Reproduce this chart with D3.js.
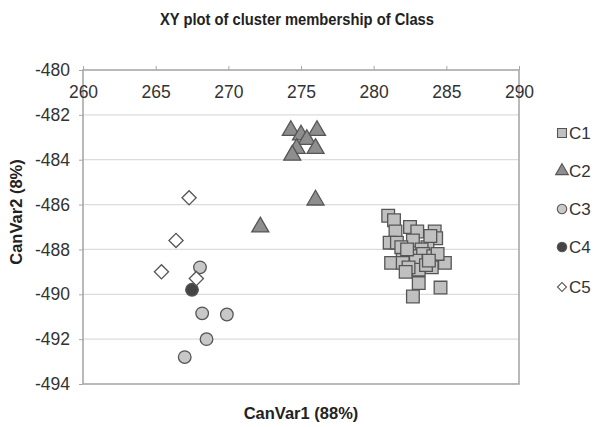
<!DOCTYPE html>
<html><head><meta charset="utf-8">
<script src="https://cdn.jsdelivr.net/npm/d3@7"></script>
<style>body{margin:0;background:#fff}svg{display:block}</style>
</head><body>
<svg id="c" width="595" height="427"></svg>
<script>
const title = "XY plot of cluster membership of Class";
const xLabel = "CanVar1 (88%)";
const yLabel = "CanVar2 (8%)";
const xTicks = [260, 265, 270, 275, 280, 285, 290];
const yTicks = [-480, -482, -484, -486, -488, -490, -492, -494];
const seriesNames = ["C1", "C2", "C3", "C4", "C5"];

const c1x = [281.0, 281.4, 281.5, 282.5, 283.0, 284.2, 284.3, 281.1, 281.6, 282.7, 283.7, 283.3, 282.0, 282.7, 283.4, 284.1, 281.2, 282.0, 282.9, 284.0, 284.9, 283.1, 282.4, 283.6, 283.1, 284.6, 282.7, 281.9, 283.9, 282.3, 284.4, 283.8, 282.2];
const c1y = [-486.5, -486.7, -487.2, -487.0, -487.2, -487.2, -487.5, -487.7, -487.7, -487.6, -487.9, -488.0, -488.3, -488.3, -488.2, -488.3, -488.6, -488.6, -488.5, -488.8, -488.6, -488.9, -488.8, -488.7, -489.5, -489.7, -490.1, -487.9, -487.4, -488.0, -488.2, -488.5, -489.0];
const c2x = [274.3, 276.1, 275.0, 275.4, 274.7, 274.4, 276.0, 276.0, 272.2];
const c2y = [-482.7, -482.7, -482.9, -483.1, -483.5, -483.8, -483.5, -485.8, -487.0];
const c3x = [268.05, 268.2, 269.9, 268.5, 267.0];
const c3y = [-488.8, -490.85, -490.9, -492.0, -492.8];
const c4x = [267.5];
const c4y = [-489.8];
const c5x = [267.3, 266.4, 265.4, 267.8];
const c5y = [-485.7, -487.6, -489.0, -489.3];

const svg = d3.select("#c");
const L = 83, R = 519, T = 70, B = 384;
const x = d3.scaleLinear().domain([260, 290]).range([L, R]);
const y = d3.scaleLinear().domain([-494, -480]).range([B, T]);
const font = "'Liberation Sans', Arial, sans-serif";

svg.append("text").attr("x", 297).attr("y", 25).attr("text-anchor", "middle")
  .attr("font-family", font).attr("font-weight", "bold").attr("font-size", 16)
  .attr("textLength", 274).attr("lengthAdjust", "spacingAndGlyphs")
  .attr("fill", "#222").text(title);

// gridlines
svg.append("g").selectAll("line").data(yTicks.slice(1, -1)).join("line")
  .attr("x1", L).attr("x2", R).attr("y1", d => y(d)).attr("y2", d => y(d))
  .attr("stroke", "#dcdcdc").attr("stroke-width", 1.2);

// plot border
svg.append("rect").attr("x", L).attr("y", T).attr("width", R - L).attr("height", B - T)
  .attr("fill", "none").attr("stroke", "#a8a8a8").attr("stroke-width", 1.6);

// y axis
const yAxis = svg.append("g").attr("transform", `translate(${L},0)`)
  .call(d3.axisLeft(y).tickValues(yTicks).tickFormat(d => String(d)).tickSize(4).tickPadding(9));
yAxis.select(".domain").remove();
yAxis.selectAll("line").attr("stroke", "#a8a8a8");
yAxis.selectAll("text").attr("font-family", font).attr("font-size", 17.5).attr("fill", "#333");

// x axis on top, labels below the line
const xAxis = svg.append("g").attr("transform", `translate(0,${T})`)
  .call(d3.axisBottom(x).tickValues(xTicks).tickFormat(d => String(d)).tickSize(4).tickPadding(12));
xAxis.select(".domain").remove();
xAxis.selectAll("line").attr("stroke", "#a8a8a8").attr("y2", -4);
xAxis.selectAll("text").attr("font-family", font).attr("font-size", 17.5).attr("fill", "#333");

svg.append("text").attr("x", 301).attr("y", 419).attr("text-anchor", "middle")
  .attr("font-family", font).attr("font-weight", "bold").attr("font-size", 16.5).attr("fill", "#222").text(xLabel);
svg.append("text").attr("transform", "translate(22,212) rotate(-90)").attr("text-anchor", "middle")
  .attr("font-family", font).attr("font-weight", "bold").attr("font-size", 16.5).attr("fill", "#222").text(yLabel);

const zip = (a, b) => a.map((v, i) => [v, b[i]]);
const series = [
  {name: "C1", pts: zip(c1x, c1y), type: d3.symbolSquare, size: 160, fill: "#c0c0c0"},
  {name: "C2", pts: zip(c2x, c2y), type: d3.symbolTriangle, size: 125, fill: "#8e8e8e"},
  {name: "C3", pts: zip(c3x, c3y), type: d3.symbolCircle, size: 125, fill: "#c8c8c8"},
  {name: "C4", pts: zip(c4x, c4y), type: d3.symbolCircle, size: 125, fill: "#444"},
  {name: "C5", pts: zip(c5x, c5y), type: d3.symbolDiamond, size: 100, fill: "#fff"}
];
const isDia = s => s.type === d3.symbolDiamond;
series.forEach(s => {
  svg.append("g").selectAll("path").data(s.pts).join("path")
    .attr("d", isDia(s) ? d3.symbol().type(d3.symbolSquare).size(s.size)() : d3.symbol().type(s.type).size(s.size)())
    .attr("transform", d => `translate(${x(d[0])},${y(d[1])})` + (isDia(s) ? " rotate(45)" : ""))
    .attr("fill", s.fill).attr("stroke", "#555").attr("stroke-width", 1.3);
});

// legend
const legY = [133, 171, 209, 247, 287];
const leg = svg.append("g");
series.forEach((s, i) => {
  leg.append("path")
    .attr("d", isDia(s) ? d3.symbol().type(d3.symbolSquare).size(40)() : d3.symbol().type(s.type).size(s.type === d3.symbolSquare ? 80 : 70)())
    .attr("transform", `translate(562,${legY[i]})` + (isDia(s) ? " rotate(45)" : ""))
    .attr("fill", s.fill).attr("stroke", "#555").attr("stroke-width", 1.1);
  leg.append("text").attr("x", 569).attr("y", legY[i] + 6)
    .attr("font-family", font).attr("font-size", 17).attr("fill", "#333").text(seriesNames[i]);
});
</script>
</body></html>
